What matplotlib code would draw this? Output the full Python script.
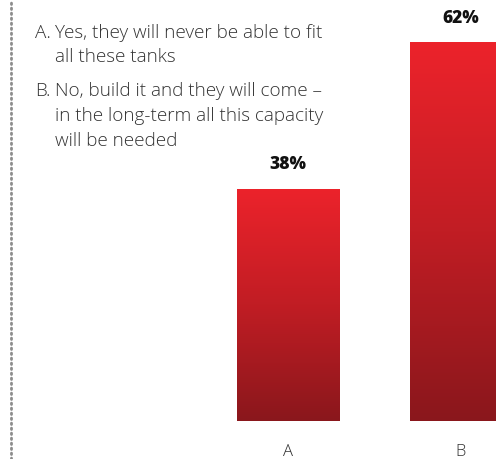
import numpy as np
import matplotlib
matplotlib.use("Agg")
import matplotlib.pyplot as plt
from matplotlib.colors import LinearSegmentedColormap

categories = ["A", "B"]
shares = [38, 62]
answers = [
    ("A.", ["Yes, they will never be able to fit", "all these tanks"]),
    ("B.", ["No, build it and they will come \u2013", "in the long-term all this capacity", "will be needed"]),
]

plt.rcParams["font.family"] = ["Open Sans", "DejaVu Sans"]

W, H = 496, 460
fig = plt.figure(figsize=(W / 100, H / 100), dpi=100)
ax = fig.add_axes([0, 38 / H, 1, 1 - 38 / H])

x = np.arange(len(categories))
bars = ax.bar(x, shares, width=0.59, color="none", edgecolor="none")

# red-to-dark vertical gradient inside each bar
grad = LinearSegmentedColormap.from_list("redfade", ["#8a171c", "#c11d24", "#ec232b"])
ramp = np.linspace(0, 1, 256).reshape(-1, 1)
for b in bars:
    x0, w, h = b.get_x(), b.get_width(), b.get_height()
    im = ax.imshow(ramp, cmap=grad, origin="lower", aspect="auto",
                   extent=[x0, x0 + w, 0, h], zorder=2)
    im.set_clip_path(b)

for xi, v in zip(x, shares):
    ax.annotate(f"{v}%", (xi, v), xytext=(0, 12), textcoords="offset points",
                ha="center", va="bottom", fontsize=12.5, fontweight=800, color="#111111")

ax.set_xlim(-288 / 173, (W - 288) / 173)
ax.set_ylim(0, (H - 38) / 6.11)
ax.set_xticks(x, categories)
ax.tick_params(axis="x", length=0, pad=16, labelsize=12, labelcolor="#333333")
for lab in ax.get_xticklabels():
    lab.set_fontweight(300)
ax.set_yticks([])
for s in ax.spines.values():
    s.set_visible(False)

# dotted rule down the left edge
fig.add_artist(plt.Line2D([11 / W, 11 / W], [0, 1], color="#8c8c8c", lw=2.0,
                          linestyle=(0, (0.5, 1.3)), dash_capstyle="round"))

y = 38
for key, lines in answers:
    fig.text(35 / W, 1 - y / H, key, fontsize=13.6, fontweight=300,
             color="#333333", va="baseline")
    for i, line in enumerate(lines):
        fig.text(55 / W, 1 - (y + i * 24.5) / H, line, fontsize=13.6, fontweight=300,
                 color="#333333", va="baseline")
    y += (len(lines) - 1) * 24.5 + 34

fig.savefig("out.png", dpi=100)
